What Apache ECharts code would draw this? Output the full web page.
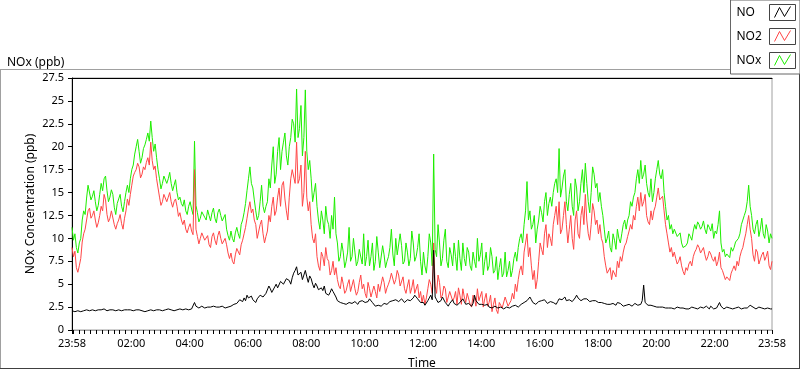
<!DOCTYPE html>
<html><head><meta charset="utf-8">
<script src="https://cdn.jsdelivr.net/npm/echarts@6/dist/echarts.min.js"></script>
<style>html,body{margin:0;padding:0;background:#fff}#c{width:800px;height:369px}</style>
</head><body><div id="c"></div>
<script>
// sampling step (minutes) of the readings, starting at 23:58
const STEP_MIN = 3;
const seriesNames = ['NO', 'NO2', 'NOx'];

const noValues = [
2.1,2.2,2.0,2.1,2.1,2.0,2.0,2.1,2.1,2.2,2.2,2.1,2.1,2.2,2.2,2.1,2.1,2.2,2.2,2.1,
2.2,2.3,2.3,2.2,2.1,2.2,2.2,2.1,2.2,2.3,2.1,2.2,2.2,2.1,2.1,2.2,2.2,2.3,2.2,2.1,
2.2,2.1,2.1,2.2,2.2,2.3,2.2,2.1,2.1,2.2,2.0,2.1,2.1,2.2,2.2,2.3,2.1,2.2,2.2,2.1,
2.2,2.3,2.1,2.2,2.2,2.1,2.3,2.2,2.2,2.3,2.1,2.2,2.2,2.4,2.3,2.2,2.2,2.3,2.3,2.2,
2.2,2.4,2.3,2.5,3.0,2.6,2.5,2.4,2.4,2.6,2.5,2.4,2.4,2.5,2.6,2.5,2.5,2.6,2.4,2.5,
2.6,2.5,2.7,2.6,2.5,2.4,2.6,2.5,2.4,2.6,2.5,2.8,2.7,2.9,3.0,3.3,3.2,3.1,3.5,3.2,
3.8,3.5,3.4,3.7,3.3,3.1,3.0,3.4,3.6,3.8,4.0,3.6,3.7,4.0,4.2,4.8,4.5,4.1,4.3,4.7,
5.0,4.6,4.8,5.3,5.5,5.0,5.2,5.6,5.8,5.4,5.0,5.7,6.2,6.5,6.9,6.0,5.8,6.3,5.5,6.0,
6.5,5.8,5.2,5.9,5.6,5.0,4.6,5.1,4.8,4.4,4.2,4.6,4.3,4.8,4.0,4.2,3.8,4.1,4.5,4.2,
4.0,3.6,3.2,3.3,3.0,3.1,2.9,3.0,2.8,2.9,3.0,2.8,2.9,3.0,3.1,2.9,2.8,3.1,3.0,3.2,
3.3,3.0,2.9,3.1,3.4,3.2,3.0,2.8,2.6,2.8,2.7,2.6,2.6,2.8,2.9,2.7,2.8,3.0,3.1,3.3,
3.2,3.0,3.3,3.5,3.1,3.0,3.4,3.2,3.0,3.2,3.3,3.4,3.2,3.0,3.5,3.8,3.6,3.4,3.3,3.0,
2.8,3.0,2.7,2.9,3.2,3.5,3.8,3.3,8.7,3.6,3.3,3.0,2.8,3.2,3.6,3.4,3.0,2.8,2.6,2.9,
3.1,3.3,2.9,2.8,2.7,2.9,3.0,3.2,3.4,3.1,2.8,3.0,2.9,2.7,2.6,2.9,3.8,3.2,3.0,2.8,
2.7,2.8,2.9,2.7,2.6,2.8,2.5,2.6,2.4,2.5,2.6,2.5,2.4,2.3,2.5,2.4,2.3,2.4,2.5,2.3,
2.4,2.5,2.6,2.5,2.7,2.6,2.5,2.6,2.8,2.7,3.0,3.1,3.2,3.4,3.6,3.3,3.0,2.9,2.8,3.0,
3.1,3.0,3.2,3.4,3.3,3.1,2.9,3.0,3.1,3.3,3.0,2.9,2.8,3.1,3.4,3.2,3.3,3.5,3.6,3.2,
3.0,3.3,3.5,3.1,3.2,3.5,3.8,3.5,3.4,3.2,3.1,3.4,3.6,3.4,3.3,3.1,3.0,3.2,3.4,3.2,
3.1,3.0,3.2,3.0,2.8,2.9,3.0,2.8,2.9,2.8,2.7,2.9,2.8,2.7,3.0,2.8,2.9,2.7,2.6,2.8,
2.7,2.9,2.8,2.7,2.6,2.8,2.9,2.7,2.7,2.8,2.8,3.2,4.9,3.0,2.8,2.7,2.6,2.7,2.5,2.6,
2.7,2.5,2.6,2.5,2.4,2.5,2.6,2.4,2.5,2.4,2.3,2.4,2.5,2.3,2.4,2.5,2.6,2.4,2.3,2.4,
2.4,2.3,2.2,2.3,2.4,2.5,2.3,2.4,2.5,2.3,2.4,2.5,2.3,2.4,2.5,2.6,2.4,2.3,2.6,2.4,
2.3,2.5,2.4,2.6,3.0,2.6,2.5,2.3,2.4,2.5,2.3,2.4,2.4,2.3,2.5,2.4,2.3,2.5,2.4,2.3,
2.3,2.4,2.5,2.4,2.6,2.7,2.9,2.5,2.4,2.3,2.3,2.5,2.5,2.4,2.4,2.3,2.3,2.4,2.4,2.3,2.3
];

const no2Values = [
9.0,8.0,8.6,6.8,6.3,7.0,7.8,9.6,10.5,11.0,12.0,13.0,13.3,12.2,12.5,13.0,12.0,11.2,11.7,12.5,
13.5,13.0,14.8,14.2,12.6,11.8,12.2,13.0,12.8,11.5,11.0,11.6,12.0,12.6,11.6,11.0,12.2,13.0,14.3,13.6,
14.8,15.8,16.8,17.2,17.5,18.2,17.8,16.6,17.0,17.8,17.5,18.3,18.8,18.0,20.5,18.5,17.5,17.9,16.5,15.5,
14.5,13.6,14.0,14.8,15.0,14.0,14.5,15.0,14.0,13.4,14.0,14.3,13.5,12.4,12.8,12.0,11.5,12.0,11.0,10.6,
11.2,11.6,10.8,10.4,17.5,11.0,10.2,9.4,10.0,10.6,10.4,9.8,9.6,10.3,9.3,9.0,10.2,10.6,9.8,9.3,
10.3,10.8,10.0,9.4,9.5,10.0,9.3,8.4,7.8,8.4,7.5,7.2,8.2,8.9,8.8,8.2,9.3,9.8,10.5,11.2,
12.2,13.2,14.0,12.8,13.2,12.0,11.5,10.0,10.2,11.5,12.0,10.5,9.5,10.2,10.8,12.5,11.8,13.5,14.5,12.5,
13.0,14.5,15.5,13.5,15.8,16.2,14.3,13.0,12.0,14.5,16.5,17.5,17.5,16.0,20.5,16.0,16.5,18.0,13.5,15.0,
19.5,14.5,13.0,14.0,11.5,10.0,9.5,10.5,8.0,7.0,6.5,8.5,8.0,7.0,9.0,7.8,7.5,6.0,6.5,7.5,
6.0,6.8,5.5,4.8,4.5,5.8,5.0,4.0,4.3,5.0,5.5,4.2,4.0,5.5,4.5,3.8,4.2,5.2,6.0,4.5,
5.0,4.0,3.5,5.2,4.5,3.6,3.8,4.8,4.2,3.5,5.0,4.2,4.0,5.8,5.2,4.0,4.6,5.0,5.5,6.2,
6.3,5.0,5.5,6.5,6.0,4.8,5.0,5.8,4.5,4.0,4.8,5.5,4.0,4.6,5.5,4.0,4.2,5.0,3.5,4.2,
3.0,3.8,2.8,3.5,4.5,5.5,5.0,4.0,9.5,4.8,4.0,6.0,5.2,3.5,3.8,4.8,4.5,3.0,3.2,4.2,
4.4,3.2,3.5,4.2,2.8,4.6,3.8,2.8,4.5,3.6,3.0,4.0,4.2,2.8,2.5,3.8,3.5,2.6,4.5,3.2,
3.0,4.2,2.5,3.4,4.0,2.6,3.0,3.8,2.0,2.8,3.5,2.2,1.8,3.0,3.2,2.4,2.5,3.6,3.5,2.6,
2.8,3.2,4.0,3.4,5.0,4.2,5.5,6.5,7.0,6.0,8.5,9.5,10.5,8.0,9.0,7.0,5.5,6.5,4.5,5.5,
7.5,9.5,8.8,8.2,10.5,11.5,9.0,10.5,10.0,9.2,11.5,12.5,13.5,11.5,14.0,10.5,11.0,12.5,14.0,11.5,
9.5,11.0,12.5,10.0,8.8,12.0,13.0,10.5,10.0,12.5,13.5,11.5,14.8,12.0,10.5,9.8,11.5,13.8,13.0,11.5,
12.0,10.5,11.5,10.0,9.5,8.0,7.0,6.2,6.0,6.8,5.5,6.5,6.5,5.8,7.5,6.8,8.0,7.5,8.5,9.2,
9.5,10.2,10.8,11.5,11.0,12.5,12.0,13.5,14.5,13.0,15.0,13.5,14.0,14.8,12.5,11.8,11.5,13.0,12.0,13.0,
13.5,14.5,15.5,14.2,14.0,14.6,13.0,11.5,10.5,9.5,8.5,9.0,8.0,8.5,7.8,7.2,7.5,8.0,7.0,6.4,
6.0,6.8,6.5,7.2,7.5,7.0,8.0,8.5,8.8,9.3,9.0,8.4,8.5,9.0,8.2,7.6,8.0,8.6,8.3,7.8,
7.5,8.0,7.0,7.5,8.5,6.8,6.5,6.0,5.5,5.8,6.0,5.4,6.2,6.6,7.0,6.5,7.5,7.0,8.0,8.6,
9.0,9.8,10.5,11.5,12.5,11.0,10.0,8.2,7.5,8.8,8.5,7.2,7.0,8.2,8.5,7.6,8.0,8.6,7.0,6.6,7.5
];

const noxValues = [
11.2,9.8,10.5,9.0,8.4,9.5,10.0,12.0,13.0,12.6,14.4,15.8,15.6,14.2,14.6,15.2,14.0,13.0,13.6,14.8,
16.0,15.2,16.5,16.8,15.2,14.0,14.5,15.3,14.8,13.4,12.6,13.8,14.3,14.8,13.5,12.9,14.0,15.0,15.8,15.0,
16.5,17.5,18.0,19.2,20.0,20.8,19.5,18.2,18.8,19.8,20.2,20.8,21.5,20.6,22.8,21.0,19.5,20.3,18.8,17.5,
16.5,15.4,16.0,16.8,17.0,16.0,16.5,17.2,16.0,15.2,15.8,16.4,15.0,14.2,14.5,13.8,13.5,14.2,13.0,12.6,
13.5,14.0,13.2,12.6,20.6,13.6,12.8,11.8,12.2,12.9,13.0,12.3,12.0,13.1,12.5,11.9,12.8,13.3,12.2,11.7,
12.8,13.2,12.5,11.9,12.0,12.6,11.0,10.3,9.8,10.8,10.0,9.6,10.6,11.2,10.5,10.0,11.5,12.0,12.8,13.8,
15.2,16.5,17.8,16.0,15.5,14.2,13.0,12.0,12.5,14.0,15.8,13.5,12.8,13.5,14.0,16.5,15.5,18.0,20.0,16.0,
17.0,19.5,21.0,17.5,19.5,20.5,21.5,19.0,18.0,20.0,21.0,23.0,22.5,20.5,26.3,21.0,22.0,24.5,19.0,21.0,
26.2,19.5,17.5,18.5,16.5,14.0,15.0,16.0,13.5,12.0,11.0,13.0,12.0,10.5,13.5,12.0,11.5,10.0,12.5,11.0,
14.5,10.5,9.5,7.5,8.0,9.5,8.5,6.8,7.5,8.5,11.2,7.5,8.0,10.0,8.5,7.0,7.5,8.8,9.0,7.2,
10.5,7.0,8.0,9.8,7.0,8.0,9.5,6.5,7.5,10.2,8.5,6.8,7.0,9.2,8.2,6.8,7.5,8.0,9.0,11.0,
8.3,7.0,10.0,8.2,8.0,10.5,9.2,7.2,7.5,9.5,8.5,7.0,7.8,10.8,9.5,7.5,8.0,9.0,10.5,7.5,
6.0,8.5,7.0,6.2,8.0,10.5,9.5,7.0,19.2,8.8,8.0,11.5,9.5,7.0,7.8,9.8,11.0,7.5,6.8,9.0,
8.2,7.0,9.5,8.0,6.5,9.8,7.8,6.5,9.5,7.8,7.0,9.0,8.5,7.0,6.5,8.5,7.5,6.8,10.0,7.5,
8.2,9.5,6.0,7.5,8.5,6.5,7.0,9.0,8.0,6.2,6.5,8.0,5.5,6.8,7.8,5.8,6.2,8.5,5.8,6.5,
7.5,5.8,6.5,7.8,8.5,7.5,9.0,10.0,10.5,9.5,11.5,13.0,16.2,12.0,13.0,11.0,11.5,12.5,9.5,11.0,
12.0,13.5,12.8,11.8,14.0,15.0,12.5,13.8,14.5,13.5,15.0,16.0,16.5,15.0,19.8,14.5,15.5,16.8,17.5,14.0,
13.0,14.8,16.0,13.5,12.5,16.5,15.5,13.0,14.0,16.0,17.5,15.0,18.2,16.0,14.0,12.8,15.0,17.8,17.0,15.5,
16.0,14.0,15.0,13.5,12.5,11.0,9.5,10.0,10.8,9.0,8.5,10.5,9.8,8.8,11.0,10.0,9.5,10.5,11.5,12.0,
11.0,12.0,12.5,14.0,13.5,14.5,15.0,16.5,17.5,16.0,18.5,16.5,17.0,18.0,16.0,15.0,14.5,16.5,14.0,15.0,
16.5,17.5,18.5,17.0,16.5,17.5,15.0,13.5,12.0,12.5,11.0,11.5,10.5,11.0,10.8,10.2,10.0,10.6,9.5,9.0,
8.8,9.2,9.5,10.5,10.2,9.8,10.8,11.5,11.0,11.8,11.5,11.0,11.3,11.9,11.0,10.5,11.5,11.2,10.8,11.6,
10.0,10.8,10.5,11.5,13.0,9.5,8.5,8.8,8.0,8.3,8.5,7.9,9.0,8.6,9.0,9.6,9.5,10.0,10.5,11.5,
12.0,12.5,13.0,14.0,15.8,13.5,12.5,11.0,10.5,11.5,12.0,10.2,11.0,12.2,10.5,10.0,11.5,10.8,9.5,10.5,10.0
];

const xTickLabels = ['23:58','02:00','04:00','06:00','08:00','10:00','12:00','14:00','16:00','18:00','20:00','22:00','23:58'];
const yMin = 0, yMax = 27.5, yStep = 2.5;

const FONT = 'Noto Sans';
const START = 23 * 60 + 58;
const SPAN = 1440;
function labelToT(lbl, idx) {
  if (idx === xTickLabels.length - 1) return SPAN;
  const p = lbl.split(':').map(Number);
  let t = p[0] * 60 + p[1] - START;
  if (t < 0) t += 1440;
  return t;
}
const majorT = xTickLabels.map(labelToT);
const labelAt = {};
majorT.forEach((t, i) => { labelAt[t] = xTickLabels[i]; });
// tick marks every 12 clock-minutes, plus both 23:58 ends
const tickT = [0];
for (let t = 2; t < SPAN; t += 12) tickT.push(t);
tickT.push(SPAN);

const toPairs = arr => arr.map((v, i) => [i * STEP_MIN, v]);
const colors = { NO: '#000000', NO2: '#ff4646', NOx: '#1eee00' };
const dataMap = { NO: noValues, NO2: no2Values, NOx: noxValues };

const chart = echarts.init(document.getElementById('c'), null, { renderer: 'canvas' });
const textBase = { fontFamily: FONT, fontSize: 11, color: '#000' };
const nameText = { fontFamily: FONT, fontSize: 12, color: '#000' };

const legendCommon = {
  orient: 'vertical', right: 0, top: 0, align: 'right',
  itemWidth: 26, itemHeight: 16, itemGap: 7, padding: [4, 4, 5, 6], selectedMode: false
};

chart.setOption({
  animation: false,
  backgroundColor: '#fff',
  textStyle: { fontFamily: FONT },
  title: { text: 'NOx (ppb)', left: 2, top: 52, textStyle: { fontFamily: FONT, fontSize: 12, fontWeight: 'normal', color: '#000' } },
  graphic: [
    { type: 'line', silent: true, shape: { x1: 0, y1: 69.5, x2: 730, y2: 69.5 }, style: { stroke: '#a0a0a0', lineWidth: 1 } },
    { type: 'line', silent: true, shape: { x1: 0.5, y1: 69, x2: 0.5, y2: 369 }, style: { stroke: '#a0a0a0', lineWidth: 1 } },
    { type: 'line', silent: true, shape: { x1: 0, y1: 368.5, x2: 800, y2: 368.5 }, style: { stroke: '#404040', lineWidth: 1 } },
    { type: 'line', silent: true, shape: { x1: 799.5, y1: 72, x2: 799.5, y2: 369 }, style: { stroke: '#404040', lineWidth: 1 } }
  ],
  legend: [
    Object.assign({}, legendCommon, {
      data: seriesNames,
      z: 4,
      borderColor: '#666', borderWidth: 1, backgroundColor: '#fff',
      icon: 'rect',
      itemStyle: { color: '#fff', borderColor: '#444', borderWidth: 1 },
      formatter: '{a|{name}}',
      textStyle: { fontFamily: FONT, fontSize: 12, color: '#000', lineHeight: 16,
        rich: { a: { width: 28, align: 'left', fontFamily: FONT, fontSize: 12, color: '#000', lineHeight: 16 } } }
    }),
    Object.assign({}, legendCommon, {
      data: seriesNames.map(n => ({ name: n, itemStyle: { color: 'rgba(0,0,0,0)', borderColor: colors[n], borderWidth: 1 } })),
      z: 6,
      icon: 'path://M0,0 M26,16 M5,13 L10,3 L15,12 L21,2',
      itemStyle: { color: 'rgba(0,0,0,0)', borderWidth: 1 },
      formatter: '{a|{name}}',
      textStyle: { fontSize: 12, lineHeight: 16,
        rich: { a: { width: 28, align: 'left', fontFamily: FONT, fontSize: 12, color: 'rgba(0,0,0,0)', lineHeight: 16 } } }
    })
  ],
  grid: { left: 72, right: 28, top: 78, bottom: 39, outerBoundsMode: 'none', containLabel: false,
          show: true, borderColor: '#a0a0a0', borderWidth: 1, backgroundColor: 'transparent' },
  xAxis: [
    {
      type: 'value', min: 0, max: SPAN, position: 'bottom',
      axisLine: { show: true, lineStyle: { color: '#a0a0a0', width: 1 } },
      axisTick: { show: true, customValues: tickT, length: 4, lineStyle: { color: '#000', width: 1 } },
      axisLabel: Object.assign({ customValues: tickT, margin: 8, hideOverlap: false,
        formatter: v => labelAt[v] !== undefined ? labelAt[v] : '' }, textBase),
      splitLine: { show: false },
      name: 'Time', nameLocation: 'middle', nameGap: 28, nameMoveOverlap: false,
      nameTextStyle: nameText
    },
    {
      type: 'value', min: 0, max: SPAN, position: 'top',
      axisLine: { show: true, lineStyle: { color: '#000', width: 1 } },
      axisTick: { show: false }, axisLabel: { show: false }, splitLine: { show: false }
    }
  ],
  yAxis: {
    type: 'value', min: yMin, max: yMax, interval: yStep,
    axisLine: { show: true, lineStyle: { color: '#000', width: 1 } },
    axisTick: { show: true, length: 4, lineStyle: { color: '#000' } },
    axisLabel: Object.assign({ margin: 8 }, textBase),
    splitLine: { show: false },
    name: 'NOx Concentration (ppb)', nameLocation: 'middle', nameGap: 35, nameRotate: 90, nameMoveOverlap: false,
    nameTextStyle: nameText
  },
  series: ['NOx', 'NO2', 'NO'].map(n => ({
    name: n, type: 'line', xAxisIndex: 0, showSymbol: false, symbol: 'none',
    data: toPairs(dataMap[n]),
    lineStyle: { color: colors[n], width: 1 },
    itemStyle: { color: colors[n] },
    emphasis: { disabled: true }
  }))
});
</script>
</body></html>
